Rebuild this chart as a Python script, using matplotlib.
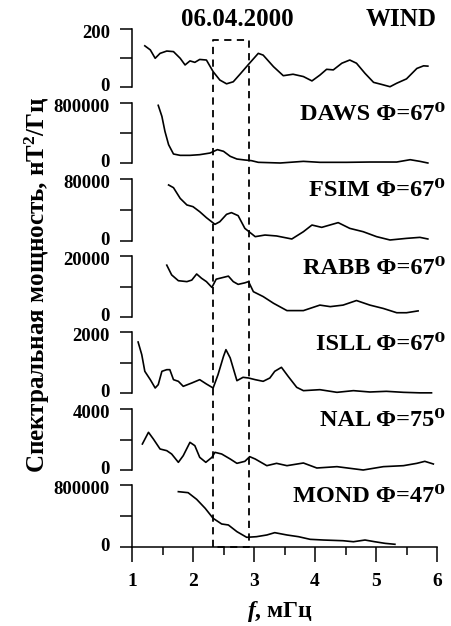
import matplotlib
matplotlib.use('Agg')
import matplotlib.pyplot as plt
from matplotlib.lines import Line2D
from matplotlib.transforms import blended_transform_factory, ScaledTranslation

plt.rcParams['font.family'] = ['Liberation Serif', 'DejaVu Serif']
plt.rcParams['font.weight'] = 'bold'
plt.rcParams['mathtext.fontset'] = 'custom'
plt.rcParams['mathtext.rm'] = 'Liberation Serif:bold'
plt.rcParams['mathtext.it'] = 'Liberation Serif:bold:italic'
plt.rcParams['mathtext.bf'] = 'Liberation Serif:bold'

# spectra (f in mHz, power in nT^2/Hz)
wind_f = [1.21, 1.30, 1.38, 1.46, 1.57, 1.68, 1.79, 1.87, 1.95, 2.03, 2.11, 2.22, 2.33, 2.44,
          2.55, 2.66, 2.77, 2.91, 3.07, 3.15, 3.32, 3.48, 3.64, 3.81, 3.95, 4.08, 4.19, 4.30,
          4.44, 4.57, 4.68, 4.82, 4.96, 5.09, 5.23, 5.34, 5.50, 5.67, 5.78, 5.85]
wind_p = [142, 128, 99, 116, 124, 122, 99, 76, 90, 85, 95, 93, 53, 24,
          11, 18, 44, 78, 116, 110, 70, 39, 44, 36, 21, 41, 61, 59,
          82, 93, 82, 47, 16, 9, 1, 13, 28, 64, 73, 72]

daws_f = [1.43, 1.49, 1.54, 1.60, 1.68, 1.79, 1.95, 2.11, 2.28, 2.40, 2.50, 2.61, 2.72, 2.85,
          2.96, 3.07, 3.43, 3.81, 4.08, 4.52, 4.90, 5.34, 5.56, 5.72, 5.85]
daws_p = [769e3, 622e3, 422e3, 244e3, 120e3, 102e3, 102e3, 111e3, 133e3, 178e3, 156e3, 89e3,
          53e3, 40e3, 31e3, 9e3, 0, 22e3, 9e3, 9e3, 13e3, 13e3, 44e3, 22e3, 0]

fsim_f = [1.60, 1.68, 1.79, 1.90, 2.00, 2.11, 2.22, 2.36, 2.44, 2.55, 2.63, 2.74, 2.85, 3.02,
          3.18, 3.37, 3.62, 3.81, 3.95, 4.11, 4.38, 4.57, 4.79, 5.01, 5.23, 5.50, 5.72, 5.85]
fsim_p = [72.3e3, 68.8e3, 55e3, 46.5e3, 44.3e3, 37.8e3, 30.1e3, 21.5e3, 24.9e3, 34.4e3, 36.6e3,
          32.7e3, 16.3e3, 5.6e3, 7.7e3, 6.5e3, 2.6e3, 12e3, 20.6e3, 17.6e3, 23.7e3, 16.3e3,
          12e3, 5.6e3, 1.3e3, 3.4e3, 4.7e3, 2.6e3]

rabb_f = [1.57, 1.65, 1.76, 1.90, 1.98, 2.06, 2.14, 2.22, 2.31, 2.38, 2.50, 2.58, 2.66, 2.74,
          2.85, 2.91, 2.99, 3.15, 3.32, 3.54, 3.81, 4.08, 4.25, 4.46, 4.68, 4.90, 5.12, 5.34,
          5.50, 5.69]
rabb_p = [17.0e3, 13.8e3, 11.9e3, 11.6e3, 12.1e3, 14.1e3, 12.7e3, 11.6e3, 9.7e3, 12.4e3, 13.0e3,
          13.4e3, 11.6e3, 10.7e3, 11.2e3, 11.6e3, 8.3e3, 6.7e3, 4.5e3, 2.1e3, 2.1e3, 3.9e3,
          3.4e3, 3.9e3, 5.4e3, 3.9e3, 2.8e3, 1.4e3, 1.4e3, 2.0e3]

isll_f = [1.10, 1.16, 1.21, 1.30, 1.38, 1.43, 1.49, 1.57, 1.62, 1.68, 1.76, 1.84, 1.98, 2.11,
          2.22, 2.33, 2.41, 2.50, 2.54, 2.61, 2.72, 2.82, 2.91, 3.02, 3.15, 3.26, 3.34, 3.45,
          3.56, 3.70, 3.81, 4.08, 4.36, 4.63, 4.90, 5.17, 5.45, 5.72, 5.91]
isll_p = [1672, 1257, 711, 437, 164, 273, 711, 765, 765, 437, 383, 219, 328, 437,
          295, 164, 601, 1202, 1421, 1148, 404, 514, 492, 437, 383, 492, 711, 842,
          546, 186, 77, 109, 22, 77, 33, 55, 22, 5, 5]

nal_f = [1.17, 1.27, 1.35, 1.46, 1.57, 1.65, 1.76, 1.84, 1.95, 2.03, 2.11, 2.21, 2.31, 2.36,
         2.47, 2.61, 2.72, 2.85, 2.93, 3.02, 3.21, 3.37, 3.54, 3.81, 4.03, 4.36, 4.79, 5.12,
         5.45, 5.67, 5.80, 5.94]
nal_p = [1705, 2472, 2033, 1377, 1268, 1049, 503, 940, 1814, 1596, 830, 503, 830, 1158,
         1049, 721, 437, 568, 874, 721, 284, 437, 284, 459, 131, 219, 0, 219,
         284, 437, 568, 394]

mond_f = [1.76, 1.92, 2.06, 2.20, 2.33, 2.47, 2.58, 2.72, 2.88, 3.04, 3.21, 3.34, 3.54, 3.73,
          3.92, 4.14, 4.46, 4.63, 4.82, 4.98, 5.15, 5.31]
mond_p = [714e3, 701e3, 615e3, 499e3, 370e3, 297e3, 284e3, 198e3, 125e3, 133e3, 155e3, 185e3,
          155e3, 133e3, 99e3, 90e3, 81e3, 68e3, 90e3, 68e3, 47e3, 35e3]

freqs = [wind_f, daws_f, fsim_f, rabb_f, isll_f, nal_f, mond_f]
powers = [wind_p, daws_p, fsim_p, rabb_p, isll_p, nal_p, mond_p]
names = ['WIND', 'DAWS Φ=67⁰', 'FSIM Φ=67⁰', 'RABB Φ=67⁰',
         'ISLL Φ=67⁰', 'NAL Φ=75⁰', 'MOND Φ=47⁰']
ymax = [200, 800000, 80000, 20000, 2000, 4000, 800000]
box_f = [2.33, 2.91]

W, H = 451, 626
tops = [29, 103, 179, 256, 332, 409, 485]
bots = [87, 163, 241, 317, 393, 470, 547]
left, right = 132, 437

fig = plt.figure(figsize=(W / 100, H / 100), dpi=100)

axes = []
for i in range(len(names)):
    ax = fig.add_axes([left / W, 1 - bots[i] / H, (right - left) / W, (bots[i] - tops[i]) / H])
    ax.plot(freqs[i], powers[i], color='black', lw=1.2, clip_on=False)
    ax.set_xlim(1, 6)
    ax.set_ylim(0, ymax[i])
    ax.spines['top'].set_visible(False)
    ax.spines['right'].set_visible(False)
    ax.spines['left'].set_linewidth(1.1)
    ax.set_yticks([0, ymax[i] / 2, ymax[i]])
    ax.set_yticklabels(['0', '', str(ymax[i])])
    ax.tick_params(axis='y', direction='out', length=9, width=1.1, labelsize=13.5, pad=7)
    # zero label nudged up, top label nudged down, so the stacked labels just touch
    zero_lbl, _, top_lbl = ax.get_yticklabels()
    zero_lbl.set_transform(zero_lbl.get_transform() + ScaledTranslation(0, 2 / 72, fig.dpi_scale_trans))
    top_lbl.set_transform(top_lbl.get_transform() + ScaledTranslation(0, -2 / 72, fig.dpi_scale_trans))
    ax.patch.set_visible(False)
    if i < len(names) - 1:
        ax.spines['bottom'].set_visible(False)
        ax.set_xticks([])
    else:
        ax.spines['bottom'].set_linewidth(1.1)
        ax.set_xticks([1, 2, 3, 4, 5, 6])
        ax.set_xticks([1.5, 2.5, 3.5, 4.5, 5.5], minor=True)
        ax.tick_params(axis='x', which='major', direction='out', length=11, width=1.1,
                       labelsize=14, pad=8)
        ax.tick_params(axis='x', which='minor', direction='out', length=6, width=1.1)
    axes.append(ax)

    if i == 0:
        fig.text(437 / W, 1 - 20 / H, names[i], ha='right', va='center', fontsize=18)
    else:
        fig.text(445 / W, 1 - (tops[i] + 12) / H, names[i], ha='right', va='center',
                 fontsize=17.5)

fig.text(237 / W, 1 - 20 / H, '06.04.2000', ha='center', va='center', fontsize=18)

# dashed box marking the event
trans = blended_transform_factory(axes[-1].transData, fig.transFigure)
y0, y1 = 1 - 547 / H, 1 - 40 / H
box = Line2D([box_f[0], box_f[0], box_f[1], box_f[1], box_f[0]], [y0, y1, y1, y0, y0],
             transform=trans, color='black', lw=1.3, dashes=(4, 3))
fig.add_artist(box)

fig.text(37 / W, 1 - 285 / H, 'Спектральная мощность, нТ$^2$/Гц', rotation=90,
         ha='center', va='center', fontsize=18)
fig.text(280 / W, 1 - 612 / H, '$f$, мГц', ha='center', va='center', fontsize=17)

fig.savefig('out.png', dpi=100)
